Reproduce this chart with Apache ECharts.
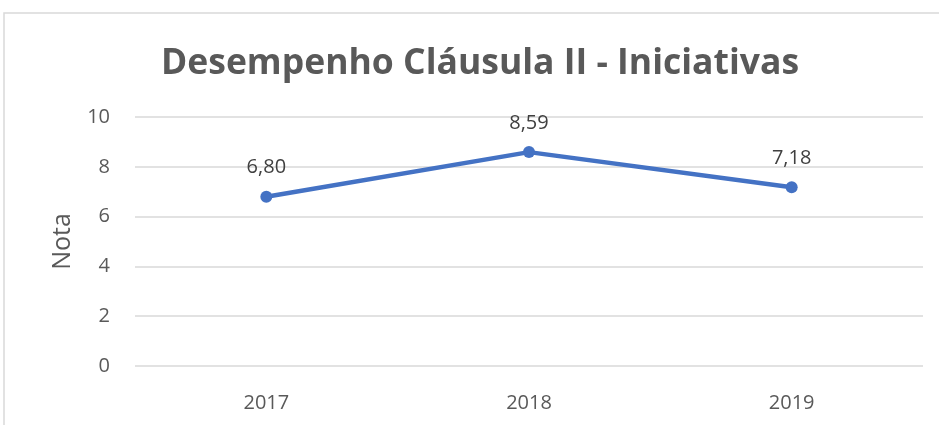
<!DOCTYPE html>
<html>
<head>
<meta charset="utf-8">
<script src="https://cdn.jsdelivr.net/npm/echarts@6/dist/echarts.min.js"></script>
<style>
html,body{margin:0;padding:0;background:#fff;}
#chart{width:939px;height:425px;}
</style>
</head>
<body>
<div id="chart"></div>
<script>
const categories = ['2017', '2018', '2019'];
const notas = [6.80, 8.59, 7.18];
const yTicks = [0, 2, 4, 6, 8, 10];

const chart = echarts.init(document.getElementById('chart'));
const font = '"Open Sans", "Noto Sans", sans-serif';
chart.setOption({
  animation: false,
  backgroundColor: '#fff',
  graphic: [{
    type: 'rect',
    shape: { x: 4, y: 13, width: 940, height: 430 },
    style: { fill: 'none', stroke: '#d9d9d9', lineWidth: 1.5 },
    silent: true
  }],
  title: {
    text: 'Desempenho Cláusula II - Iniciativas',
    left: 156,
    top: 41,
    textStyle: { fontFamily: font, fontWeight: 'bold', fontSize: 35.5, color: '#595959' }
  },
  grid: { left: 135, right: 16, top: 117, bottom: 59 },
  xAxis: {
    type: 'category',
    data: categories,
    axisLine: { show: false },
    axisTick: { show: false },
    axisLabel: { fontFamily: font, fontSize: 20, color: '#595959', margin: 27 }
  },
  yAxis: {
    type: 'value',
    min: yTicks[0],
    max: yTicks[yTicks.length - 1],
    interval: 2,
    name: 'Nota',
    nameLocation: 'middle',
    nameGap: 60,
    nameTextStyle: { fontFamily: font, fontSize: 25, color: '#595959' },
    axisLine: { show: false },
    axisTick: { show: false },
    axisLabel: { fontFamily: font, fontSize: 20, color: '#595959', margin: 25 },
    splitLine: { lineStyle: { color: '#d9d9d9', width: 1.5 } }
  },
  series: [{
    type: 'line',
    data: notas,
    symbol: 'circle',
    symbolSize: 12,
    lineStyle: { color: '#4472C4', width: 4.5 },
    itemStyle: { color: '#4472C4' },
    label: {
      show: true,
      position: 'top',
      distance: 13,
      fontFamily: font,
      fontSize: 20,
      color: '#404040',
      formatter: p => p.value.toFixed(2).replace('.', ',')
    }
  }]
});
</script>
</body>
</html>
